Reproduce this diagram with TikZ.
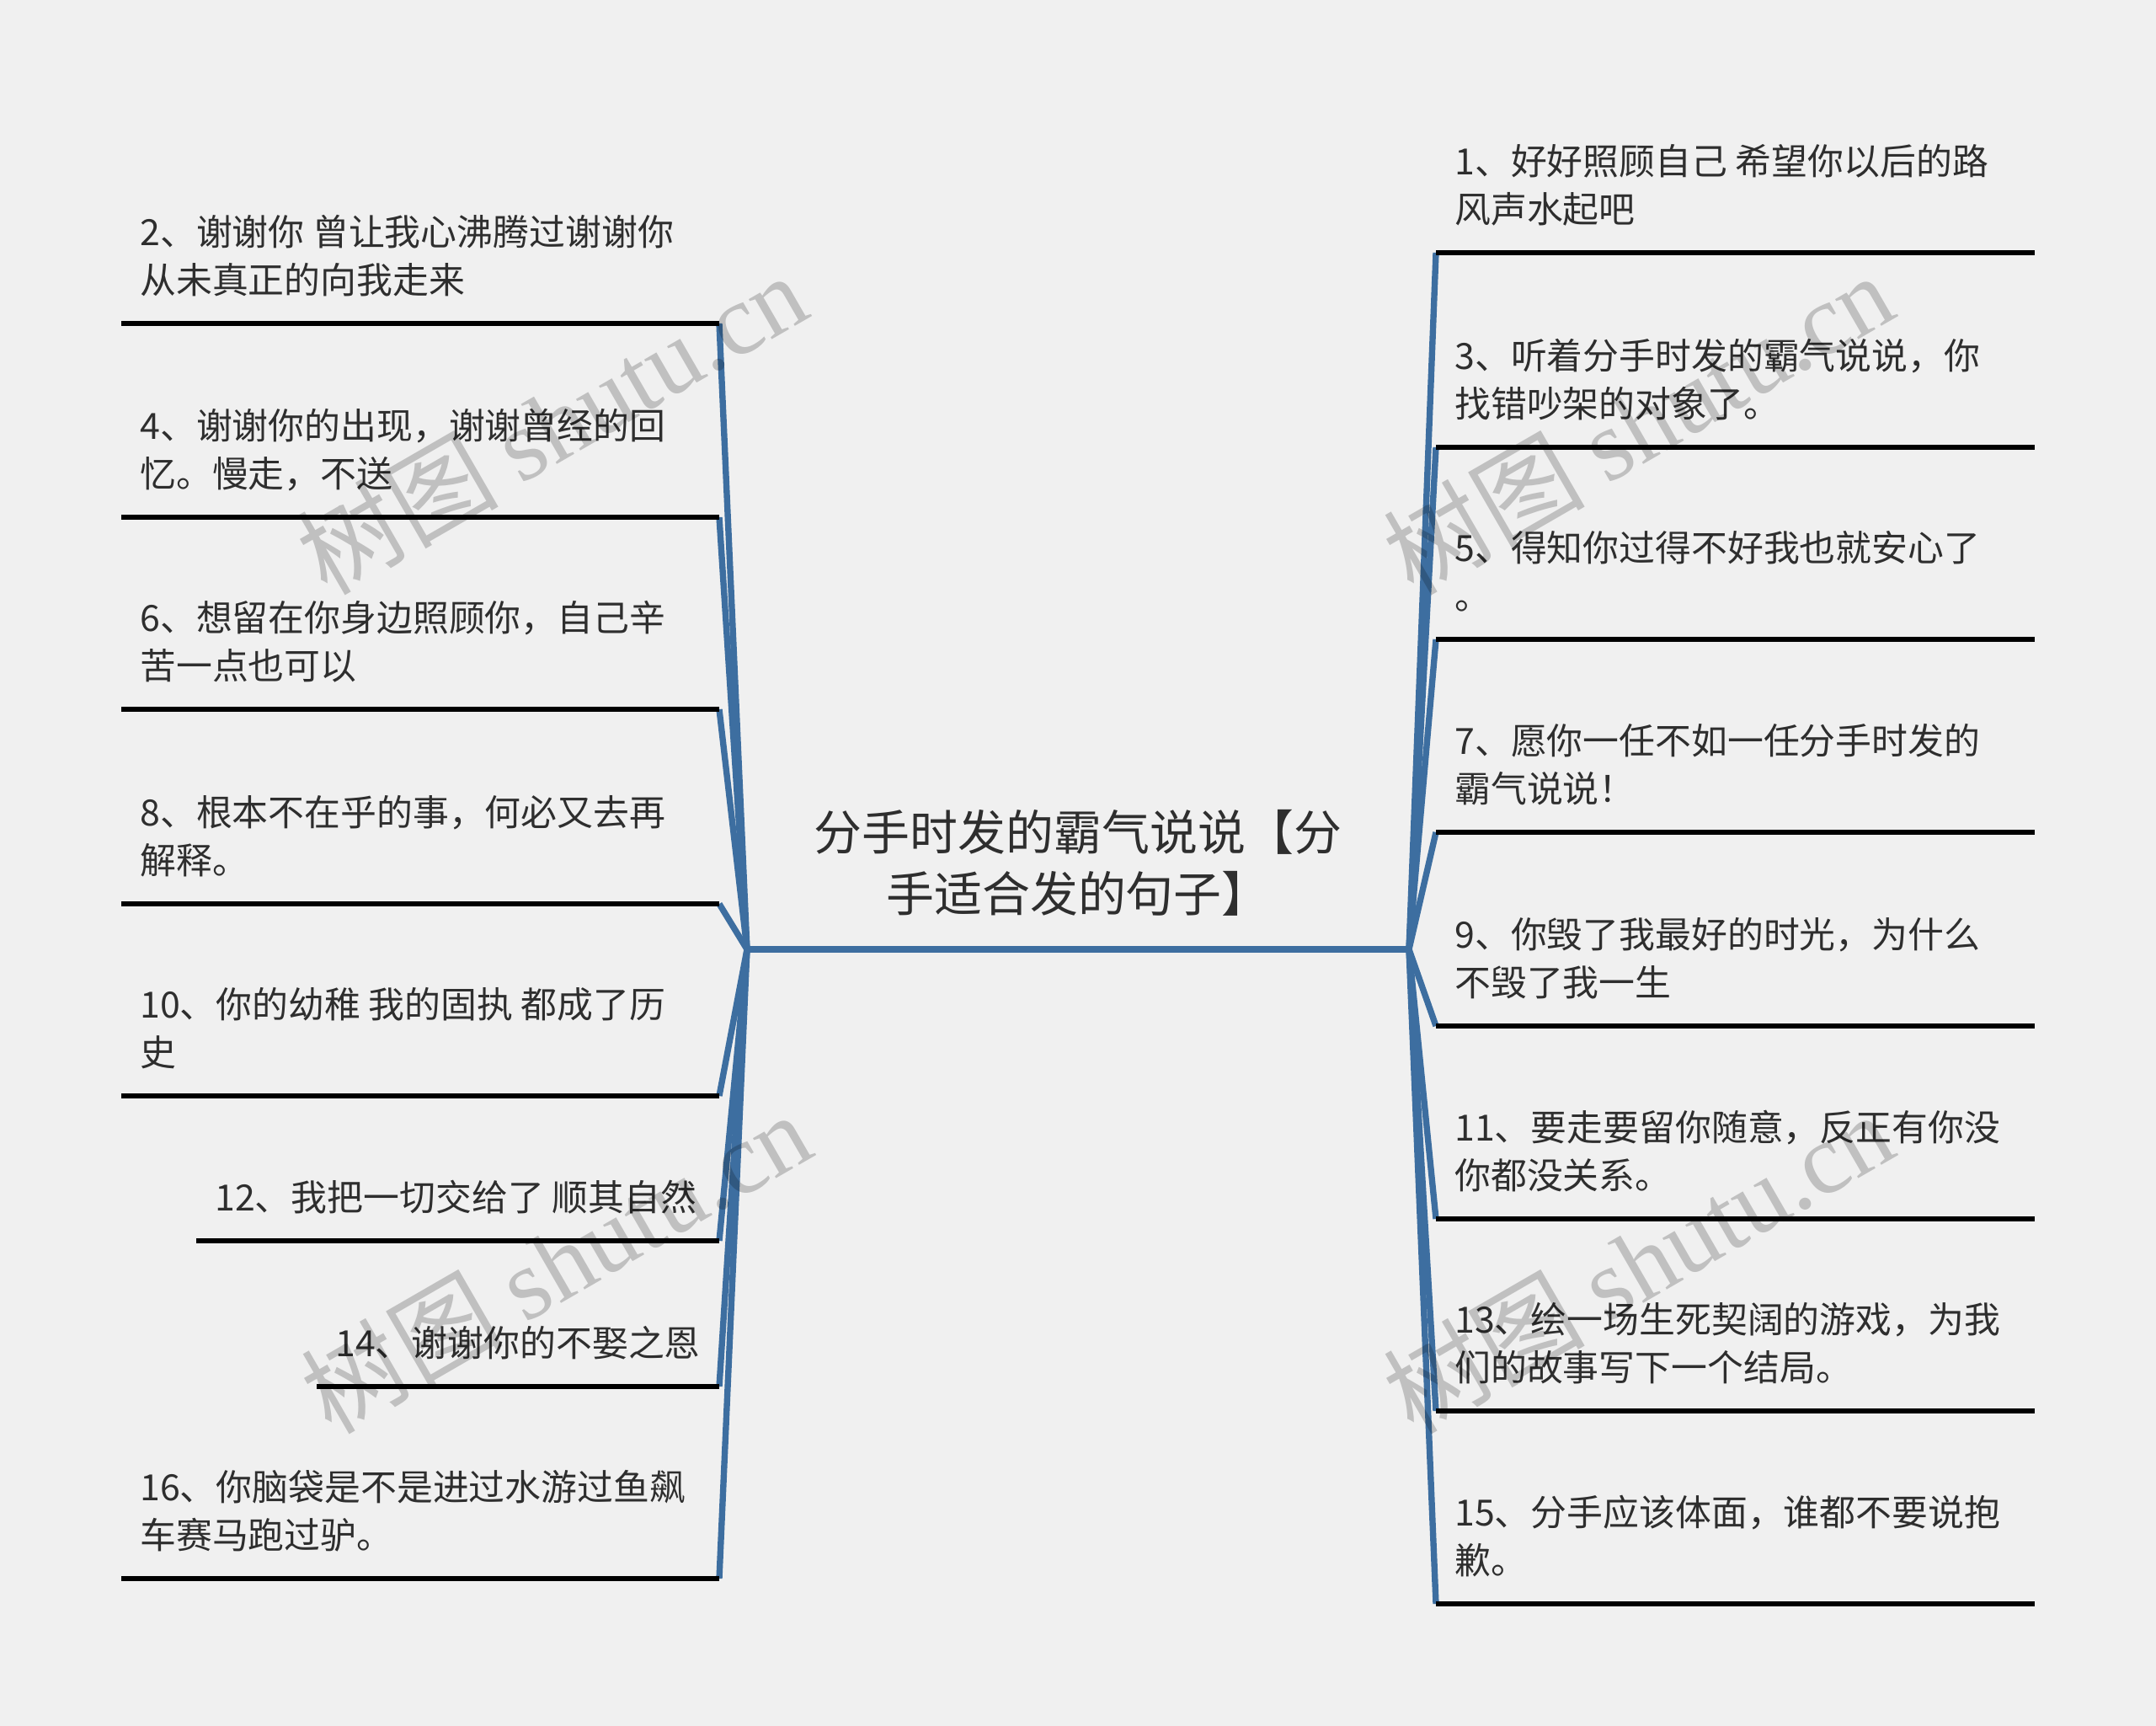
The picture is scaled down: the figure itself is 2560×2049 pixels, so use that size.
\documentclass[tikz,border=0pt]{standalone}
\usepackage{fontspec}
\setmainfont{Noto Sans CJK SC}
\newfontfamily\latinserif{Liberation Serif}
\definecolor{fondo}{HTML}{F0F0F0}
\definecolor{azul}{HTML}{3D6EA0}
\definecolor{texto}{HTML}{2E2E2E}

\begin{document}
\begin{tikzpicture}[x=0.02cm,y=-0.02cm,
  hoja/.style={anchor=south west,inner sep=0pt,align=left,text depth=0pt,text=texto,font=\fontsize{24.4}{32.4}\selectfont},
  raya/.style={line width=3.4pt,black},
  rama/.style={line width=4.2pt,azul},
  marca/.style={rotate=30,inner sep=0pt,text=black,text opacity=0.2,font=\fontsize{68}{72}\selectfont}]
  \fill[fondo] (0,0) rectangle (2560,2049);
  \useasboundingbox (0,0) rectangle (2560,2049);
  % tema central
  \node[anchor=south,inner sep=0pt,align=center,text depth=0pt,text=texto,font=\fontsize{32.4}{41.5}\selectfont] (tema) at (1280,1083) {分手时发的霸气说说【分\\手适合发的句子】};
  \coordinate (izq) at (887,1127);
  \coordinate (der) at (1673,1127);
  \draw[rama] (izq) -- (der);
  % ramas izquierda
  \coordinate (a2) at (144,384);  \coordinate (b2) at (854,384);
  \coordinate (a4) at (144,614);  \coordinate (b4) at (854,614);
  \coordinate (a6) at (144,842);  \coordinate (b6) at (854,842);
  \coordinate (a8) at (144,1073); \coordinate (b8) at (854,1073);
  \coordinate (a10) at (144,1301); \coordinate (b10) at (854,1301);
  \coordinate (a12) at (233,1473); \coordinate (b12) at (854,1473);
  \coordinate (a14) at (376,1646); \coordinate (b14) at (854,1646);
  \coordinate (a16) at (144,1874); \coordinate (b16) at (854,1874);
  \node[hoja] (h2) at (166,349) {2、谢谢你 曾让我心沸腾过谢谢你\\从未真正的向我走来};
  \node[hoja] (h4) at (166,579) {4、谢谢你的出现，谢谢曾经的回\\忆。慢走，不送};
  \node[hoja] (h6) at (166,807) {6、想留在你身边照顾你，自己辛\\苦一点也可以};
  \node[hoja] (h8) at (166,1038) {8、根本不在乎的事，何必又去再\\解释。};
  \node[hoja] (h10) at (166,1266) {10、你的幼稚 我的固执 都成了历\\史};
  \node[hoja] (h12) at (255,1438) {12、我把一切交给了 顺其自然};
  \node[hoja] (h14) at (398,1611) {14、谢谢你的不娶之恩};
  \node[hoja] (h16) at (166,1839) {16、你脑袋是不是进过水游过鱼飙\\车赛马跑过驴。};
  \foreach \i in {2,4,6,8,10,12,14,16}{
    \draw[rama] (izq) -- (b\i);
    \draw[raya] (a\i) -- (b\i);
  }
  % ramas derecha
  \coordinate (a1) at (1705,300);  \coordinate (b1) at (2416,300);
  \coordinate (a3) at (1705,531);  \coordinate (b3) at (2416,531);
  \coordinate (a5) at (1705,759);  \coordinate (b5) at (2416,759);
  \coordinate (a7) at (1705,988);  \coordinate (b7) at (2416,988);
  \coordinate (a9) at (1705,1218); \coordinate (b9) at (2416,1218);
  \coordinate (a11) at (1705,1447); \coordinate (b11) at (2416,1447);
  \coordinate (a13) at (1705,1675); \coordinate (b13) at (2416,1675);
  \coordinate (a15) at (1705,1904); \coordinate (b15) at (2416,1904);
  \node[hoja] (h1) at (1727,265) {1、好好照顾自己 希望你以后的路\\风声水起吧};
  \node[hoja] (h3) at (1727,496) {3、听着分手时发的霸气说说，你\\找错吵架的对象了。};
  \node[hoja] (h5) at (1727,724) {5、得知你过得不好我也就安心了\\。};
  \node[hoja] (h7) at (1727,953) {7、愿你一任不如一任分手时发的\\霸气说说！};
  \node[hoja] (h9) at (1727,1183) {9、你毁了我最好的时光，为什么\\不毁了我一生};
  \node[hoja] (h11) at (1727,1412) {11、要走要留你随意，反正有你没\\你都没关系。};
  \node[hoja] (h13) at (1727,1640) {13、绘一场生死契阔的游戏，为我\\们的故事写下一个结局。};
  \node[hoja] (h15) at (1727,1869) {15、分手应该体面，谁都不要说抱\\歉。};
  \foreach \i in {1,3,5,7,9,11,13,15}{
    \draw[rama] (der) -- (a\i);
    \draw[raya] (a\i) -- (b\i);
  }
  % marca de agua
  \node[marca] (m1) at (655,502) {树图 {\latinserif shutu.cn}};
  \node[marca] (m2) at (1945,502) {树图 {\latinserif shutu.cn}};
  \node[marca] (m3) at (660,1498) {树图 {\latinserif shutu.cn}};
  \node[marca] (m4) at (1945,1498) {树图 {\latinserif shutu.cn}};
\end{tikzpicture}
\end{document}
